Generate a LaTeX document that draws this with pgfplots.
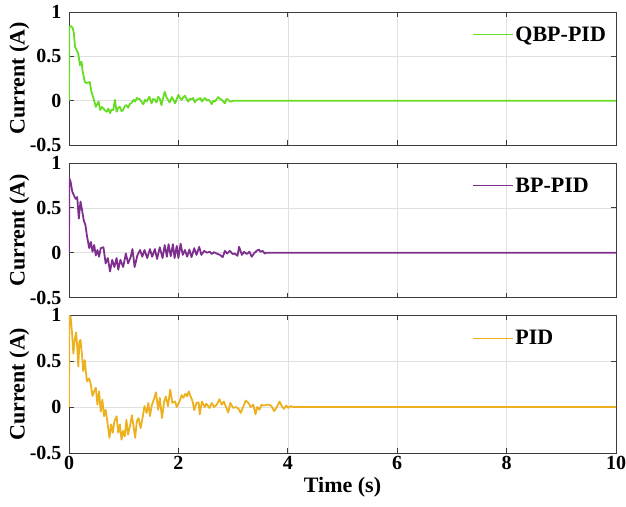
\documentclass[border=0pt]{standalone}
\usepackage{pgfplots}
\pgfplotsset{compat=1.18}
\usepackage{fontspec}
\setmainfont{Liberation Serif}
\definecolor{qbp}{RGB}{102,221,34}
\definecolor{bp}{RGB}{126,47,142}
\definecolor{pidc}{RGB}{237,177,32}
\definecolor{axgray}{RGB}{60,60,60}
\pgfplotsset{
  panel/.style={
    scale only axis, width=547pt,
    xmin=0, xmax=10, ymin=-0.5, ymax=1,
    xtick={0,2,...,10}, ytick={-0.5,0,0.5,1}, yticklabels={-0.5,0,0.5,1},
    grid=major, major grid style={black!12, line width=0.5pt},
    axis line style={axgray, line width=0.7pt},
    tick style={axgray, line width=0.7pt}, major tick length=5pt,
    tick align=inside,
    tick label style={font=\bfseries\fontsize{20}{21}\selectfont, text=black},
    yticklabel style={xshift=-4pt, inner ysep=0pt},
    xlabel style={font=\bfseries\fontsize{22}{24}\selectfont},
    ylabel={Current (A)},
    every axis y label/.style={at={(axis description cs:-0.091,0.5)}, rotate=90, anchor=center,
      font=\bfseries\fontsize{22}{24}\selectfont},
    legend style={draw=none, fill=none, at={(0.737,0.83)}, anchor=west,
      font=\bfseries\fontsize{22}{24}\selectfont, inner xsep=0pt},
    legend image code/.code={\draw[#1, line width=1.1pt] (0pt,0pt) -- (40pt,0pt);},
    every axis plot/.append style={line width=1.8pt, line join=round},
  },
}
\begin{document}
\begin{tikzpicture}
\useasboundingbox (0,0) rectangle (626pt,-506pt);
% QBP-PID
\begin{axis}[panel, at={(69pt,-145pt)}, anchor=south west, height=133pt, xticklabels={}]
\addplot[qbp] coordinates {
(0,0) (0.005,0.835) (0.04,0.84) (0.067,0.82) (0.09,0.76) (0.11,0.61) (0.14,0.57) (0.17,0.53)
(0.2,0.40) (0.23,0.44) (0.25,0.33) (0.29,0.21) (0.32,0.20) (0.38,0.21) (0.41,0.10)
(0.44,0.045) (0.49,-0.07) (0.54,-0.01) (0.57,-0.105) (0.60,-0.07) (0.63,-0.09) (0.66,-0.11)
(0.69,-0.125) (0.72,-0.09) (0.75,-0.14) (0.78,-0.10) (0.81,-0.105) (0.84,0.01) (0.87,-0.125)
(0.90,-0.08) (0.93,-0.07) (0.96,-0.12) (0.99,-0.105) (1.02,-0.06) (1.05,-0.05) (1.08,-0.08)
(1.11,-0.04) (1.15,-0.02) (1.18,0.01) (1.21,-0.01) (1.24,0.03) (1.27,0.02) (1.30,0.015)
(1.33,-0.02) (1.36,-0.04) (1.39,0.01) (1.42,-0.01) (1.47,0.045) (1.51,-0.03) (1.54,0.02)
(1.57,0.01) (1.60,-0.02) (1.63,0.045) (1.66,0.02) (1.69,-0.05) (1.72,0.03) (1.75,0.10)
(1.78,0.04) (1.81,0.01) (1.84,-0.02) (1.88,0.04) (1.91,0.01) (1.94,-0.03) (1.97,0.02)
(2.0,0.065) (2.03,0.03) (2.06,0.01) (2.09,0.04) (2.12,0.055) (2.15,0.02) (2.18,-0.01)
(2.21,0.02) (2.24,0.015) (2.27,0.03) (2.30,-0.02) (2.33,0.01) (2.36,0.015) (2.40,0.03)
(2.43,-0.01) (2.46,0.02) (2.49,0.03) (2.52,0.0) (2.55,0.01) (2.58,-0.01) (2.61,-0.04)
(2.64,0.0) (2.67,-0.01) (2.70,0.02) (2.73,0.04) (2.76,0.02) (2.79,0.01) (2.82,-0.01)
(2.85,-0.03) (2.88,0.02) (2.91,0.01) (2.94,-0.01) (2.97,-0.01) (3.0,0) (10,0)};
\addlegendentry{QBP-PID}
\end{axis}
% BP-PID
\begin{axis}[panel, at={(69pt,-297.5pt)}, anchor=south west, height=134.5pt, xticklabels={}]
\addplot[bp] coordinates {
(0,0) (0.005,0.83) (0.03,0.79) (0.06,0.68) (0.09,0.64) (0.12,0.60) (0.15,0.62) (0.18,0.38)
(0.21,0.57) (0.24,0.47) (0.27,0.36) (0.30,0.31) (0.33,0.18) (0.37,0.05) (0.40,0.12)
(0.43,0.01) (0.46,0.085) (0.49,-0.03) (0.52,0.03) (0.55,-0.045) (0.58,0.05) (0.63,0.06)
(0.67,-0.12) (0.71,-0.06) (0.75,-0.21) (0.79,-0.08) (0.83,-0.16) (0.87,-0.06) (0.90,-0.19)
(0.94,-0.08) (0.99,-0.16) (1.04,-0.01) (1.08,-0.12) (1.13,-0.045) (1.16,0.04) (1.20,-0.16)
(1.25,-0.03) (1.30,0.03) (1.34,-0.045) (1.38,0.03) (1.43,-0.06) (1.48,0.04) (1.52,-0.045)
(1.57,0.04) (1.61,-0.07) (1.66,0.06) (1.71,-0.06) (1.75,0.085) (1.79,-0.045) (1.82,0.095)
(1.86,-0.04) (1.90,0.095) (1.93,-0.06) (1.97,0.075) (2.0,-0.06) (2.04,0.10) (2.08,-0.025)
(2.12,0.03) (2.16,-0.045) (2.20,0.035) (2.24,-0.05) (2.29,0.05) (2.33,-0.025) (2.38,0.065)
(2.42,-0.025) (2.47,0.02) (2.52,0) (2.57,0.01) (2.61,-0.015) (2.65,0.005) (2.70,-0.01)
(2.76,-0.025) (2.81,-0.05) (2.85,0.02) (2.89,-0.01) (2.94,0.02) (2.99,-0.015) (3.03,-0.01)
(3.08,-0.035) (3.11,0.065) (3.16,-0.025) (3.20,0.01) (3.25,-0.015) (3.30,0.01) (3.34,-0.045)
(3.38,-0.01) (3.43,0.02) (3.47,0.035) (3.50,0.01) (3.54,0.02) (3.58,-0.01) (3.61,0) (10,0)};
\addlegendentry{BP-PID}
\end{axis}
% PID
\begin{axis}[panel, at={(69pt,-453pt)}, anchor=south west, height=138pt,
  xticklabels={0,2,4,6,8,10}, xlabel={Time (s)}]
\addplot[pidc] coordinates {
(0,0) (0.005,0.99) (0.03,0.98) (0.06,0.77) (0.08,0.58) (0.10,0.71) (0.13,0.81) (0.15,0.66)
(0.17,0.44) (0.19,0.71) (0.21,0.73) (0.24,0.55) (0.26,0.39) (0.29,0.51) (0.31,0.37)
(0.33,0.28) (0.37,0.31) (0.40,0.24) (0.43,0.12) (0.46,0.17) (0.49,0.21) (0.52,0.025)
(0.55,0.17) (0.58,-0.05) (0.61,0.08) (0.64,-0.10) (0.67,-0.03) (0.70,-0.155) (0.74,-0.335)
(0.77,-0.19) (0.80,-0.28) (0.83,-0.155) (0.87,-0.10) (0.90,-0.28) (0.93,-0.19) (0.96,-0.355)
(0.99,-0.26) (1.02,-0.32) (1.05,-0.14) (1.08,-0.30) (1.12,-0.19) (1.15,-0.09) (1.18,-0.21)
(1.21,-0.335) (1.24,-0.155) (1.27,-0.12) (1.31,-0.23) (1.35,-0.10) (1.38,0.01) (1.42,-0.065)
(1.45,0.045) (1.48,-0.10) (1.51,0.01) (1.55,0.08) (1.59,0.16) (1.63,-0.03) (1.66,0.10)
(1.70,-0.12) (1.74,0.06) (1.77,0.115) (1.81,0.01) (1.85,0.19) (1.89,0.045) (1.94,0.06)
(1.97,0) (2.02,0.06) (2.06,0.13) (2.09,0.10) (2.13,0.145) (2.16,0.115) (2.19,0.17)
(2.22,0.12) (2.26,0.06) (2.29,-0.035) (2.33,0.045) (2.37,0.05) (2.39,-0.08) (2.43,0.06)
(2.48,0) (2.51,0.035) (2.57,-0.01) (2.61,0.045) (2.65,0) (2.70,0.025) (2.75,0.085)
(2.79,0.025) (2.83,0.06) (2.87,0) (2.91,-0.06) (2.95,0.045) (3.00,-0.01) (3.05,0)
(3.10,-0.02) (3.14,-0.065) (3.19,0.01) (3.23,0.07) (3.28,0.045) (3.32,0) (3.37,0.025)
(3.41,-0.08) (3.44,0) (3.48,-0.03) (3.52,0.025) (3.56,0.015) (3.61,0.025) (3.66,0.025)
(3.70,0.01) (3.75,-0.045) (3.80,0) (3.85,0.06) (3.89,0.01) (3.93,-0.02) (3.97,0.015)
(4.01,-0.01) (4.05,0.01) (4.10,0) (10,0)};
\addlegendentry{PID}
\end{axis}
\end{tikzpicture}
\end{document}
